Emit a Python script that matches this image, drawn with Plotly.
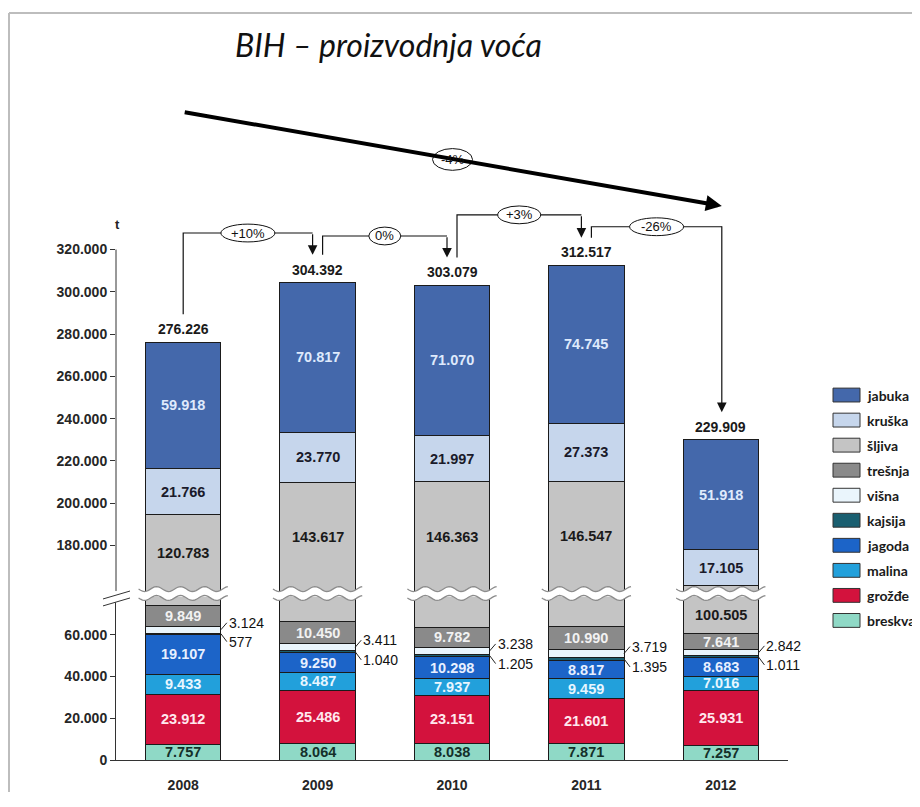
import math
import plotly.graph_objects as go

# ---------------- data ----------------
years = ["2008", "2009", "2010", "2011", "2012"]
breskva = [7757, 8064, 8038, 7871, 7257]
grozdje = [23912, 25486, 23151, 21601, 25931]
malina = [9433, 8487, 7937, 9459, 7016]
jagoda = [19107, 9250, 10298, 8817, 8683]
kajsija = [577, 1040, 1205, 1395, 1011]
visna = [3124, 3411, 3238, 3719, 2842]
tresnja = [9849, 10450, 9782, 10990, 7641]
sljiva = [120783, 143617, 146363, 146547, 100505]
kruska = [21766, 23770, 21997, 27373, 17105]
jabuka = [59918, 70817, 71070, 74745, 51918]

series_names = ["breskva", "grožđe", "malina", "jagoda", "kajsija",
                "višna", "trešnja", "šljiva", "kruška", "jabuka"]
series_values = [breskva, grozdje, malina, jagoda, kajsija,
                 visna, tresnja, sljiva, kruska, jabuka]

change_labels = ["+10%", "0%", "+3%", "-26%"]
overall_label = "-4%"

upper_ticks = [180000, 200000, 220000, 240000, 260000, 280000, 300000, 320000]
lower_ticks = [0, 20000, 40000, 60000]

# ---------------- style ----------------
OFF = 8                      # browser page margin around the figure
W, H = 920 - 2 * OFF, 807 - 2 * OFF
colors = {
    "jabuka": "#4468ab", "kruška": "#c6d6ec", "šljiva": "#c4c4c4",
    "trešnja": "#8a8a8a", "višna": "#eaf5fc", "kajsija": "#1a5f70",
    "jagoda": "#1c64c8", "malina": "#22a0db", "grožđe": "#d3123d",
    "breskva": "#8fd9c6",
}
label_colors = {
    "jabuka": "#dfeafc", "kruška": "#1a1a2a", "šljiva": "#1a1a1a",
    "trešnja": "#f2f2f2", "jagoda": "#e8f0ff", "malina": "#e8f6ff",
    "grožđe": "#ffe8ee", "breskva": "#14302a",
}
outside_offsets = {"višna": -7, "kajsija": 8}   # px, leader-line labels

# positions below are in screenshot pixels
X_LEFT, X_RIGHT = 116, 788
LOW_BOTTOM, LOW_TOP, LOW_SCALE = 768, 603, 0.002115      # px per t
UP_BOTTOM, UP_REF_PX, UP_REF_V, UP_SCALE = 597, 252, 320000, 0.002135
BAR_W = 0.56
NUM_FONT = "Arial"
PCT_FONT = dict(family="Arial", size=13, color="#111")

LOW_MAX = (LOW_BOTTOM - LOW_TOP) / LOW_SCALE
UP_MIN = UP_REF_V - (UP_BOTTOM - UP_REF_PX) / UP_SCALE
UP_MAX = UP_REF_V + (UP_REF_PX - OFF) / UP_SCALE


def fmt(v):
    return f"{v:,}".replace(",", ".")


def xpx(i):
    return X_LEFT + (i + 0.5) / len(years) * (X_RIGHT - X_LEFT)


def up_px(v):
    return UP_REF_PX + (UP_REF_V - v) * UP_SCALE


def PX(x):
    return (x - OFF) / W


def PY(y):
    return 1 - (y - OFF) / H


def note(x, y, text, font, xanchor="center", yanchor="middle", **kw):
    d = dict(x=PX(x), y=PY(y), xref="paper", yref="paper", text=text,
             showarrow=False, xanchor=xanchor, yanchor=yanchor, font=font)
    d.update(kw)
    return d


xs = list(range(len(years)))
totals = [sum(s[i] for s in series_values) for i in xs]

fig = go.Figure()
for name, vals in zip(series_names, series_values):
    for xa, ya in (("x", "y"), ("x2", "y2")):
        fig.add_trace(go.Bar(
            x=xs, y=vals, width=BAR_W, name=name, xaxis=xa, yaxis=ya,
            marker=dict(color=colors[name], line=dict(color="#1b1b1b", width=1)),
            showlegend=False, hoverinfo="skip",
        ))

annotations = []
shapes = []

# ---- segment labels ----
for i in xs:
    base = 0
    for name, vals in zip(series_names, series_values):
        v = vals[i]
        lo, hi = base, base + v
        base = hi
        if name in outside_offsets:
            annotations.append(dict(
                x=i + BAR_W / 2, y=(lo + hi) / 2, xref="x", yref="y",
                text=fmt(v), showarrow=True, arrowhead=0, arrowwidth=1,
                arrowcolor="#222", ax=6, ay=outside_offsets[name],
                xanchor="left", yanchor="middle",
                font=dict(family=NUM_FONT, size=14, color="#111"),
            ))
            continue
        l0, l1 = max(lo, 0), min(hi, LOW_MAX)
        u0, u1 = max(lo, UP_MIN), min(hi, UP_MAX)
        low_len = max(0, l1 - l0) * LOW_SCALE
        up_len = max(0, u1 - u0) * UP_SCALE
        if low_len >= up_len:
            pos, xr, yr, ln = (l0 + l1) / 2, "x", "y", low_len
        else:
            pos, xr, yr, ln = (u0 + u1) / 2, "x2", "y2", up_len
        if ln < 12:
            continue
        annotations.append(dict(
            x=i, y=pos, xref=xr, yref=yr, text="<b>" + fmt(v) + "</b>",
            showarrow=False, xanchor="center", yanchor="middle",
            font=dict(family=NUM_FONT, size=14.5, color=label_colors[name]),
        ))

# ---- totals ----
for i in xs:
    annotations.append(dict(
        x=i, y=totals[i], xref="x2", yref="y2", text="<b>" + fmt(totals[i]) + "</b>",
        showarrow=False, xanchor="center", yanchor="bottom", yshift=3,
        font=dict(family=NUM_FONT, size=14, color="#1a1a1a"),
    ))

# ---- year-to-year connectors ----
level_offsets = [50, 47, 51, 39]
for k, lab in enumerate(change_labels):
    ti, tj = up_px(totals[k]), up_px(totals[k + 1])
    level = min(ti, tj) - level_offsets[k]
    sx = xpx(k) + (5 if k > 0 else 0)
    ex = xpx(k + 1) + (-5 if k + 1 < len(years) - 1 else 1)
    sy, ey = ti - 28, tj - 28
    shapes.append(dict(
        type="path", xref="paper", yref="paper",
        path=f"M{PX(sx)},{PY(sy)} L{PX(sx)},{PY(level)} L{PX(ex)},{PY(level)}",
        line=dict(color="#111", width=1.2), fillcolor="rgba(0,0,0,0)",
    ))
    annotations.append(dict(
        x=PX(ex), y=PY(ey), xref="paper", yref="paper", text="",
        showarrow=True, arrowhead=2, arrowsize=1.6, arrowwidth=1.2,
        arrowcolor="#111", ax=0, ay=level - ey, standoff=0,
    ))
    mx = (sx + ex) / 2
    ew = 11 * len(lab) + 10
    shapes.append(dict(
        type="circle", xref="paper", yref="paper",
        x0=PX(mx - ew / 2), x1=PX(mx + ew / 2), y0=PY(level - 9), y1=PY(level + 9),
        fillcolor="white", line=dict(color="#111", width=1),
    ))
    annotations.append(note(mx, level, lab, PCT_FONT))

# ---- overall trend arrow ----
a_sx, a_sy = xpx(0), 114
a_ex, a_ey = xpx(len(years) - 1) + 1, 208
annotations.append(dict(
    x=PX(a_ex), y=PY(a_ey), xref="paper", yref="paper", text="",
    showarrow=True, arrowhead=2, arrowsize=0.8, arrowwidth=4, arrowcolor="#000",
    ax=a_sx - a_ex, ay=a_sy - a_ey, standoff=0,
))
omx, omy = (a_sx + a_ex) / 2, (a_sy + a_ey) / 2
shapes.append(dict(
    type="circle", xref="paper", yref="paper",
    x0=PX(omx - 20), x1=PX(omx + 20), y0=PY(omy - 11), y1=PY(omy + 11),
    fillcolor="white", line=dict(color="#111", width=1),
))
annotations.append(note(omx, omy, overall_label, PCT_FONT))


# ---- break bands across bars ----
def wave(x0, x1, yc, amp=2.5, period=24):
    n = int((x1 - x0) / 2) + 1
    return [(x0 + (x1 - x0) * k / n,
             yc + amp * math.sin(2 * math.pi * ((x1 - x0) * k / n) / period))
            for k in range(n + 1)]


half_bar_px = BAR_W / 2 * (X_RIGHT - X_LEFT) / len(years)
for i in xs:
    x0 = xpx(i) - half_bar_px - 7
    x1 = xpx(i) + half_bar_px + 7
    top = wave(x0, x1, 595)
    bot = wave(x0, x1, 604)
    pts = top + bot[::-1]
    shapes.append(dict(
        type="path", xref="paper", yref="paper",
        path="M" + " L".join(f"{PX(a)},{PY(b)}" for a, b in pts) + " Z",
        fillcolor="white", line=dict(width=0),
    ))
    for wv in (top, bot):
        shapes.append(dict(
            type="path", xref="paper", yref="paper",
            path="M" + " L".join(f"{PX(a)},{PY(b)}" for a, b in wv),
            fillcolor="rgba(0,0,0,0)", line=dict(color="#8c8c8c", width=1.3),
        ))

# ---- axis line (upper panel) and axis break ----
shapes.append(dict(type="line", xref="paper", yref="paper",
                   x0=PX(X_LEFT), x1=PX(X_LEFT), y0=PY(UP_REF_PX), y1=PY(UP_BOTTOM),
                   line=dict(color="#333", width=1)))
shapes.append(dict(type="path", xref="paper", yref="paper",
                   path=f"M{PX(103)},{PY(605)} L{PX(130)},{PY(597)} L{PX(130)},{PY(604)} L{PX(103)},{PY(612)} Z",
                   fillcolor="white", line=dict(width=0)))
for dy in (0, 7):
    shapes.append(dict(type="line", xref="paper", yref="paper",
                       x0=PX(103), y0=PY(605 + dy), x1=PX(130), y1=PY(597 + dy),
                       line=dict(color="#333", width=1)))

# ---- outer frame (top and left edges visible) ----
shapes.append(dict(type="line", xref="paper", yref="paper",
                   x0=PX(9), y0=PY(13), x1=PX(912), y1=PY(13),
                   line=dict(color="#bdbdbd", width=2)))
shapes.append(dict(type="line", xref="paper", yref="paper",
                   x0=PX(9), y0=PY(13), x1=PX(9), y1=PY(800),
                   line=dict(color="#bdbdbd", width=2)))

# ---- title and unit ----
annotations.append(note(233, 45, "<i>BIH – proizvodnja voća</i>",
                        dict(family="Lato", size=32, color="#111"), xanchor="left"))
annotations.append(note(117, 227, "<b>t</b>", dict(family=NUM_FONT, size=13, color="#222")))

# ---- manual legend ----
for k, name in enumerate(series_names[::-1]):
    yc = 399 + k * 25.3
    shapes.append(dict(type="rect", xref="paper", yref="paper",
                       x0=PX(833), x1=PX(860), y0=PY(yc - 7), y1=PY(yc + 7),
                       fillcolor=colors[name], line=dict(color="#333", width=1)))
    annotations.append(note(865, yc, "<b>" + name + "</b>",
                            dict(family="Lato", size=14, color="#1a1a1a"), xanchor="left"))

axis_font = dict(family=NUM_FONT, size=14, color="#262626")
fig.update_layout(
    width=W, height=H, margin=dict(l=0, r=0, t=0, b=0),
    paper_bgcolor="white", plot_bgcolor="rgba(0,0,0,0)",
    barmode="stack", showlegend=False,
    xaxis=dict(domain=[PX(X_LEFT), PX(X_RIGHT)], range=[-0.5, len(years) - 0.5],
               tickvals=xs, ticktext=["<b>" + y + "</b>" for y in years],
               ticks="outside", ticklen=12, tickcolor="rgba(0,0,0,0)",
               showline=True, linecolor="#333", linewidth=1,
               showgrid=False, zeroline=False, tickfont=axis_font, anchor="y"),
    yaxis=dict(domain=[PY(LOW_BOTTOM), PY(LOW_TOP)], range=[0, LOW_MAX],
               tickvals=lower_ticks, ticktext=["<b>" + fmt(v) + "</b>" for v in lower_ticks],
               ticks="outside", ticklen=5, tickcolor="#333",
               showline=True, linecolor="#333", linewidth=1,
               showgrid=False, zeroline=False, tickfont=axis_font, anchor="x"),
    xaxis2=dict(domain=[PX(X_LEFT), PX(X_RIGHT)], range=[-0.5, len(years) - 0.5],
                matches="x", showticklabels=False, ticks="", showline=False,
                showgrid=False, zeroline=False, anchor="y2"),
    yaxis2=dict(domain=[PY(UP_BOTTOM), 1.0], range=[UP_MIN, UP_MAX],
                tickvals=upper_ticks, ticktext=["<b>" + fmt(v) + "</b>" for v in upper_ticks],
                ticks="outside", ticklen=5, tickcolor="#333", showline=False,
                showgrid=False, zeroline=False, tickfont=axis_font, anchor="x2"),
    annotations=annotations, shapes=shapes,
)

fig.write_html("out.html")
